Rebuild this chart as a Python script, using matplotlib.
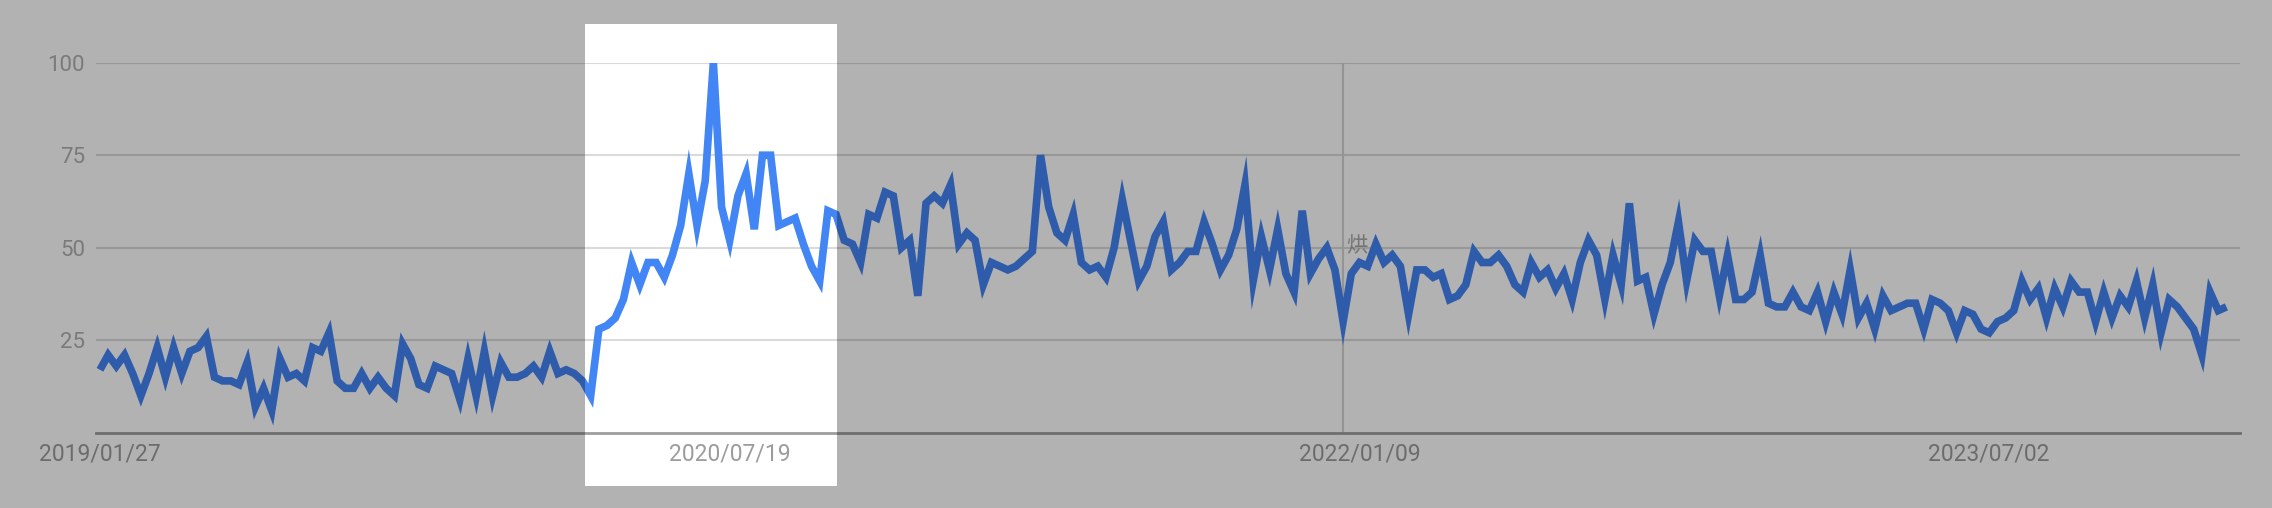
import numpy as np
import pandas as pd
import matplotlib
matplotlib.use("Agg")
from matplotlib import pyplot as plt
from matplotlib.patches import Rectangle

# weekly interest values, starting 2019/01/27
values = [
    17, 21, 18, 21, 16, 10, 16, 23, 15, 23, 16, 22, 23, 26, 15, 14, 14, 13, 19, 7,
    12, 6, 20, 15, 16, 14, 23, 22, 27, 14, 12, 12, 16, 12, 15, 12, 10, 24, 20, 13,
    12, 18, 17, 16, 9, 20, 10, 22, 10, 19, 15, 15, 16, 18, 15, 22, 16, 17, 16, 14,
    10, 28, 29, 31, 36, 46, 40, 46, 46, 42, 48, 56, 70, 56, 68, 100, 61, 52, 64, 70,
    55, 75, 75, 56, 57, 58, 51, 45, 41, 60, 59, 52, 51, 46, 59, 58, 65, 64, 50, 52,
    37, 62, 64, 62, 67, 51, 54, 52, 40, 46, 45, 44, 45, 47, 49, 75, 61, 54, 52, 59,
    46, 44, 45, 42, 50, 63, 52, 41, 45, 53, 57, 44, 46, 49, 49, 57, 51, 44, 48, 55,
    67, 41, 53, 44, 55, 43, 38, 60, 43, 47, 50, 44, 30, 43, 46, 45, 51, 46, 48, 45,
    32, 44, 44, 42, 43, 36, 37, 40, 49, 46, 46, 48, 45, 40, 38, 46, 42, 44, 39, 43,
    36, 46, 52, 48, 36, 48, 40, 62, 41, 42, 32, 40, 46, 57, 41, 52, 49, 49, 37, 48,
    36, 36, 38, 48, 35, 34, 34, 38, 34, 33, 38, 30, 38, 32, 44, 31, 35, 28, 37, 33,
    34, 35, 35, 28, 36, 35, 33, 27, 33, 32, 28, 27, 30, 31, 33, 41, 36, 39, 31, 39,
    34, 41, 38, 38, 30, 38, 31, 37, 34, 41, 31, 40, 27, 36, 34, 31, 28, 21, 38, 33,
    34,
]
dates = pd.date_range("2019-01-27", periods=len(values), freq="7D")

tick_dates = ["2019-01-27", "2020-07-19", "2022-01-09", "2023-07-02"]
tick_labels = ["2019/01/27", "2020/07/19", "2022/01/09", "2023/07/02"]
y_ticks = [25, 50, 75, 100]

band_start = pd.Timestamp("2020-03-17")
band_end = pd.Timestamp("2020-10-19")
hover_date = pd.Timestamp("2021-12-26")

W, H = 2272, 508
fig = plt.figure(figsize=(W / 100, H / 100), dpi=100)
fig.patch.set_facecolor("white")
ax = fig.add_axes([96 / W, (H - 432.7) / H, (2239.5 - 96) / W, 370 / H])
ax.set_facecolor("white")

ax.plot(dates, values, color="#4285f4", lw=5.5, solid_joinstyle="miter",
        solid_capstyle="butt", zorder=3)

ax.set_ylim(0, 100)
ax.set_xlim(dates[0] - pd.Timedelta(days=3.4), dates[-1] + pd.Timedelta(days=11.2))

for v in y_ticks:
    ax.axhline(v, color="#dadada", lw=1.5, zorder=1)
ax.axvline(hover_date, ymax=1.0, color="#d5d5d5", lw=1.5, zorder=2)

for s in ["top", "left", "right"]:
    ax.spines[s].set_visible(False)
ax.spines["bottom"].set_color("#9e9e9e")
ax.spines["bottom"].set_linewidth(2)

ax.set_yticks(y_ticks)
ax.set_yticklabels([str(v) for v in y_ticks], fontfamily="Roboto",
                   fontsize=16, color="#b0b0b0")
ax.set_xticks(pd.to_datetime(tick_dates))
ax.set_xticklabels(tick_labels, fontfamily="Roboto", fontsize=16.5, color="#9c9c9c")
ax.tick_params(axis="both", length=0)
ax.tick_params(axis="y", pad=8)
ax.tick_params(axis="x", pad=7)

# leftover tooltip glyph next to the hover line
ax.text(hover_date + pd.Timedelta(days=3), 50.5, "烘", fontsize=15.5,
        family=["Noto Sans CJK SC", "DejaVu Sans"], color="#999999",
        alpha=0.85, va="center", ha="left", zorder=4)

# dim everything except the highlighted period
fig.canvas.draw()
x0 = ax.transData.transform((matplotlib.dates.date2num(band_start), 0))[0] / W
x1 = ax.transData.transform((matplotlib.dates.date2num(band_end), 0))[0] / W
y0 = (H - 486) / H
y1 = (H - 24) / H
shade = dict(facecolor="black", alpha=0.3, edgecolor="none",
             transform=fig.transFigure, zorder=10)
fig.patches.extend([
    Rectangle((0, 0), x0, 1, **shade),
    Rectangle((x1, 0), 1 - x1, 1, **shade),
    Rectangle((x0, 0), x1 - x0, y0, **shade),
    Rectangle((x0, y1), x1 - x0, 1 - y1, **shade),
])

fig.savefig("out.png", dpi=100)
